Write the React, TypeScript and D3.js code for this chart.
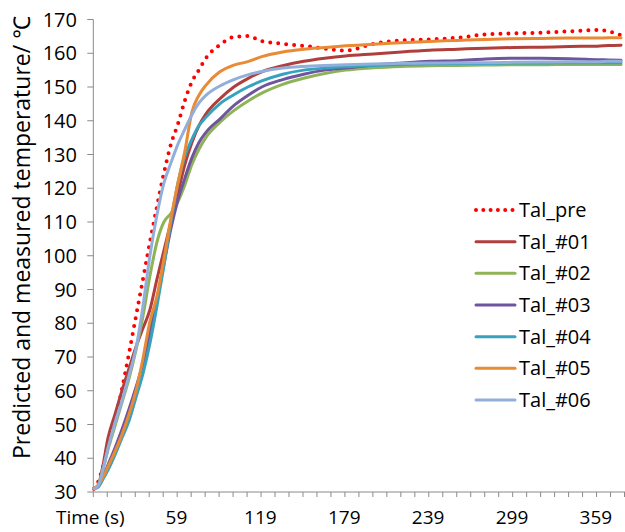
import React from "react";
import * as d3 from "d3";

const times = [0, 3, 6, 10, 15, 20, 25, 30, 35, 40, 45, 50, 55, 60, 65, 70, 75, 80, 90, 100, 110, 120, 135, 150, 165, 180, 200, 220, 240, 260, 280, 300, 320, 340, 360, 368, 377];

const talPre = [31, 33, 37, 43, 51, 60.5, 71, 82, 93, 104, 114.5, 124.5, 133, 139, 146, 151.5, 155, 158.5, 162.5, 164.8, 165.1, 163.6, 162.8, 162.2, 161.4, 160.8, 162.8, 163.8, 164.1, 164.6, 165.6, 165.9, 166.1, 166.5, 166.9, 166.5, 165.3];
const tal01 = [31, 32, 37, 46, 53, 60, 66.5, 73, 78.5, 84, 93, 101.5, 110, 118.5, 127, 133.5, 138.5, 142, 146.5, 150, 152.5, 154.5, 156.3, 157.6, 158.5, 159.2, 159.8, 160.4, 160.9, 161.2, 161.5, 161.7, 161.8, 162, 162.1, 162.3, 162.4];
const tal02 = [31, 32, 36, 42.5, 49.5, 56.5, 63.5, 72, 82, 94, 104, 110, 112.5, 116, 121, 127, 131.5, 135, 139.5, 143, 145.8, 148.2, 150.8, 152.6, 154, 155, 155.7, 156.1, 156.3, 156.4, 156.5, 156.6, 156.6, 156.7, 156.7, 156.7, 156.7];
const tal03 = [31, 31.5, 34, 38, 43, 48.5, 54.5, 61, 68, 77, 87, 97.5, 108, 116.5, 123, 129, 133.5, 136.5, 140.5, 144.5, 147.5, 150, 152.2, 153.8, 155, 155.6, 156.5, 157.1, 157.6, 157.8, 158.3, 158.5, 158.5, 158.4, 158.1, 158, 157.9];
const tal04 = [31, 31.5, 33.5, 36.5, 41, 46, 51, 58, 65, 74, 85, 97, 110, 121.5, 129.5, 134.5, 138.5, 141, 145, 147.7, 150, 151.8, 153.8, 155, 155.6, 156, 156.4, 156.7, 156.9, 157, 157, 157.1, 157.1, 157.2, 157.2, 157.2, 157.2];
const tal05 = [31, 32, 34, 37.5, 42, 47, 53, 60, 69.5, 80.5, 88, 99, 111, 121.5, 131, 142.5, 147.5, 150.5, 154.5, 156.5, 157.5, 159, 160.4, 161.2, 161.7, 162.2, 162.7, 163.1, 163.5, 163.8, 164.1, 164.3, 164.4, 164.5, 164.5, 164.6, 164.6];
const tal06 = [31, 31.8, 36, 43, 50.5, 57, 64.5, 72.5, 85, 100, 112, 121.5, 127.5, 133, 137.5, 141.8, 145.2, 147.5, 150.3, 152.2, 153.6, 154.6, 155.6, 156.1, 156.4, 156.6, 156.8, 157, 157.1, 157.2, 157.2, 157.3, 157.4, 157.5, 157.5, 157.6, 157.6];

const seriesNames = ["Tal_pre", "Tal_#01", "Tal_#02", "Tal_#03", "Tal_#04", "Tal_#05", "Tal_#06"];
const seriesValues = [talPre, tal01, tal02, tal03, tal04, tal05, tal06];
const seriesColors = ["#FF0000", "#AE3F3C", "#8FB457", "#6E559E", "#35A3BF", "#E98A35", "#92AEDA"];

const yTicks = [30, 40, 50, 60, 70, 80, 90, 100, 110, 120, 130, 140, 150, 160, 170];
const xLabels = [59, 119, 179, 239, 299, 359];
const xTitle = "Time (s)";
const yTitle = "Predicted and measured temperature/ ℃";

const W = 625;
const H = 532;
const FONT = "'Open Sans', 'Noto Sans', sans-serif";
const AXIS = "#8A8A8A";

export default function App() {
  const x = d3.scaleLinear().domain([-0.5, 379.5]).range([93.3, 624.5]);
  const y = d3.scaleLinear().domain([30, 170]).range([492, 19.5]);
  const line = d3
    .line<number>()
    .x((_, i) => x(times[i]))
    .y((v) => y(v))
    .curve(d3.curveMonotoneX);
  const minorTicks = d3.range(-0.5, 380, 10);
  const legendY = [210, 241.7, 273.3, 305, 336.7, 368.3, 400];

  return (
    <svg width={W} height={H} style={{ position: "absolute", left: 0, top: 0, background: "#fff" }}>
      <rect width={W} height={H} fill="#fff" />
      <line x1={x(-0.5)} x2={x(-0.5)} y1={y(170)} y2={y(30)} stroke={AXIS} strokeWidth={1} />
      <line x1={x(-0.5)} x2={W} y1={y(30)} y2={y(30)} stroke={AXIS} strokeWidth={1} />
      {yTicks.map((t) => (
        <g key={"yt" + t}>
          <line x1={x(-0.5) - 6} x2={x(-0.5)} y1={y(t)} y2={y(t)} stroke={AXIS} strokeWidth={1} />
          <text x={77} y={y(t) + 7} textAnchor="end" fontFamily={FONT} fontSize={20} fill="#000">
            {t}
          </text>
        </g>
      ))}
      {minorTicks.map((t) => (
        <line key={"xt" + t} x1={x(t)} x2={x(t)} y1={y(30)} y2={y(30) + 5} stroke={AXIS} strokeWidth={1} />
      ))}
      {xLabels.map((t) => (
        <text key={"xl" + t} x={x(t)} y={524} textAnchor="middle" fontFamily={FONT} fontSize={19} fill="#000">
          {t}
        </text>
      ))}
      <text x={56} y={524} fontFamily={FONT} fontSize={19} fill="#000">
        {xTitle}
      </text>
      <text
        transform={`translate(30, ${237.5}) rotate(-90)`}
        textAnchor="middle"
        fontFamily={FONT}
        fontSize={23}
        fill="#000"
      >
        {yTitle}
      </text>
      {seriesValues.map((vals, i) => (
        <path
          key={"s" + i}
          d={line(vals) || ""}
          fill="none"
          stroke={seriesColors[i]}
          strokeWidth={i === 0 ? 4 : 3}
          strokeDasharray={i === 0 ? "0 8" : undefined}
          strokeLinecap="round"
          strokeLinejoin="round"
        />
      ))}
      {seriesNames.map((name, i) => (
        <g key={"lg" + i}>
          <line
            x1={476}
            x2={515}
            y1={legendY[i]}
            y2={legendY[i]}
            stroke={seriesColors[i]}
            strokeWidth={i === 0 ? 4 : 3}
            strokeDasharray={i === 0 ? "0 7.3" : undefined}
            strokeLinecap="round"
          />
          <text x={519} y={legendY[i] + 7} fontFamily={FONT} fontSize={20} fill="#000">
            {name}
          </text>
        </g>
      ))}
    </svg>
  );
}
